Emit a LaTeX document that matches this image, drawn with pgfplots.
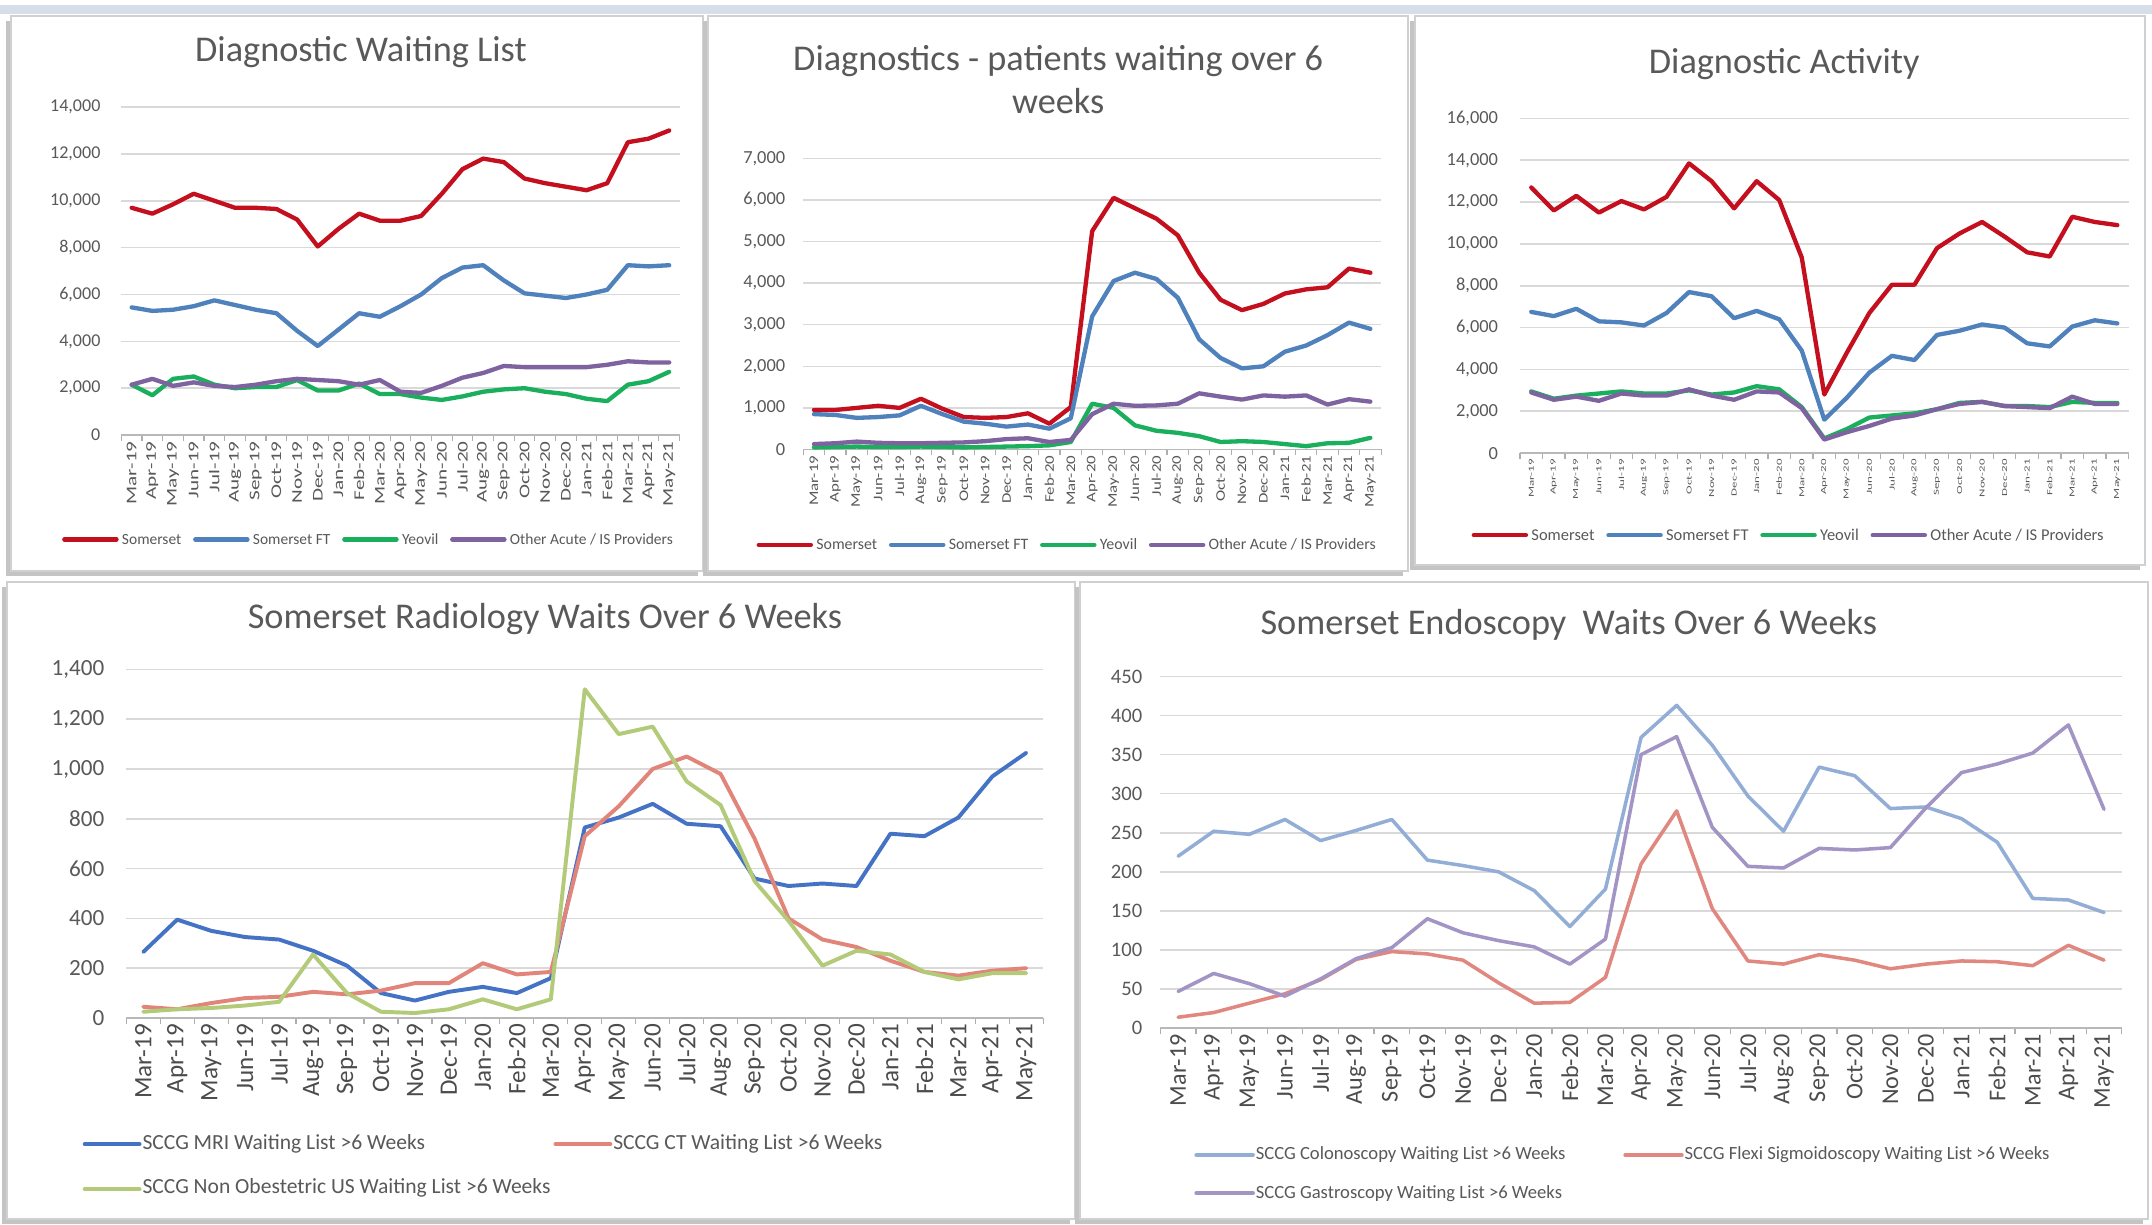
\documentclass[border=0pt]{standalone}
\usepackage{fontspec}
\setmainfont{Carlito}
\usepackage{pgfplots}
\pgfplotsset{compat=1.18}
\usepackage{pgfplotstable}

\definecolor{somred}{HTML}{C30F1E}
\definecolor{sftblue}{HTML}{4F81BD}
\definecolor{yeogreen}{HTML}{1AAF5D}
\definecolor{othpurple}{HTML}{7F63A1}
\definecolor{mriblue}{HTML}{4472C4}
\definecolor{ctred}{HTML}{E1857B}
\definecolor{usgreen}{HTML}{B3CB78}
\definecolor{colblue}{HTML}{93AED6}
\definecolor{flexred}{HTML}{E0877F}
\definecolor{gaspurple}{HTML}{A294C4}
\definecolor{txtgray}{HTML}{595959}
\definecolor{gridgray}{HTML}{D9D9D9}
\definecolor{panelborder}{HTML}{D0D0D0}
\definecolor{panelshadow}{HTML}{C4C4C4}
\definecolor{bandblue}{HTML}{D6DEEA}

% Diagnostic waiting list
\pgfplotstableread{
i som sft yeo oth
0 9700 5450 2150 2150
1 9450 5300 1700 2400
2 9850 5350 2400 2100
3 10300 5500 2500 2250
4 10000 5750 2150 2100
5 9700 5550 2000 2050
6 9700 5350 2050 2150
7 9650 5200 2050 2300
8 9200 4450 2350 2400
9 8050 3800 1900 2350
10 8800 4500 1900 2300
11 9450 5200 2200 2150
12 9150 5050 1750 2350
13 9150 5500 1750 1850
14 9350 6000 1600 1800
15 10300 6700 1500 2100
16 11350 7150 1650 2450
17 11800 7250 1850 2650
18 11650 6600 1950 2950
19 10950 6050 2000 2900
20 10750 5950 1850 2900
21 10600 5850 1750 2900
22 10450 6000 1550 2900
23 10750 6200 1450 3000
24 12500 7250 2150 3150
25 12650 7200 2300 3100
26 13000 7250 2700 3100
}\dwl

% Patients waiting over 6 weeks
\pgfplotstableread{
i som sft yeo oth
0 950 850 50 130
1 950 830 60 150
2 1000 760 70 190
3 1050 780 60 160
4 1000 820 60 150
5 1220 1050 70 150
6 980 850 60 160
7 780 670 50 170
8 760 620 60 200
9 780 550 70 250
10 870 600 80 270
11 620 500 100 180
12 1020 750 180 230
13 5250 3200 1100 850
14 6050 4050 1000 1100
15 5800 4250 580 1050
16 5550 4100 450 1060
17 5150 3650 400 1100
18 4250 2650 320 1350
19 3600 2200 180 1270
20 3350 1950 200 1200
21 3500 2000 180 1300
22 3750 2350 130 1270
23 3850 2500 80 1300
24 3900 2750 150 1080
25 4350 3050 160 1210
26 4250 2900 280 1150
}\sixwk

% Diagnostic activity
\pgfplotstableread{
i som sft yeo oth
0 12700 6750 2950 2900
1 11600 6550 2600 2550
2 12300 6900 2750 2700
3 11500 6300 2850 2500
4 12050 6250 2950 2850
5 11650 6100 2850 2750
6 12250 6700 2850 2750
7 13850 7700 3000 3050
8 13000 7500 2800 2750
9 11700 6450 2900 2550
10 13000 6800 3200 2950
11 12100 6400 3050 2900
12 9350 4900 2200 2150
13 2800 1600 700 650
14 4800 2650 1150 1000
15 6700 3850 1700 1300
16 8050 4650 1800 1650
17 8050 4450 1900 1800
18 9800 5650 2100 2100
19 10500 5850 2400 2350
20 11050 6150 2450 2450
21 10350 6000 2250 2250
22 9600 5250 2250 2200
23 9400 5100 2200 2150
24 11300 6050 2450 2700
25 11050 6350 2400 2350
26 10900 6200 2400 2350
}\activity

% Radiology waits over 6 weeks
\pgfplotstableread{
i mri ct us
0 265 45 25
1 395 35 35
2 350 60 40
3 325 80 50
4 315 85 65
5 270 105 255
6 210 95 100
7 100 110 25
8 70 140 20
9 105 140 35
10 125 220 75
11 100 175 35
12 160 185 75
13 765 730 1320
14 805 850 1140
15 860 1000 1170
16 780 1050 950
17 770 980 855
18 560 720 550
19 530 400 390
20 540 315 210
21 530 285 270
22 740 230 255
23 730 185 185
24 805 170 155
25 970 190 180
26 1065 200 180
}\radiology

% Endoscopy waits over 6 weeks
\pgfplotstableread{
i col flex gas
0 220 14 47
1 252 20 70
2 248 32 57
3 267 44 41
4 240 62 63
5 253 88 89
6 267 98 103
7 215 95 140
8 208 87 122
9 200 58 112
10 176 32 104
11 130 33 82
12 178 65 114
13 372 210 350
14 413 278 373
15 362 153 257
16 297 86 207
17 252 82 205
18 334 94 230
19 323 87 228
20 281 76 231
21 283 82 282
22 268 86 327
23 238 85 338
24 166 80 352
25 164 106 388
26 148 87 280
}\endoscopy

\newcommand\fs[1]{\fontsize{#1}{1.2\dimexpr#1pt\relax}\selectfont}

\pgfplotsset{
  excel/.style={
    scale only axis,
    xmin=-0.5, xmax=26.5, ymin=0,
    xtick={0,...,26},
    xticklabels={Mar-19,Apr-19,May-19,Jun-19,Jul-19,Aug-19,Sep-19,Oct-19,Nov-19,Dec-19,Jan-20,Feb-20,Mar-20,Apr-20,May-20,Jun-20,Jul-20,Aug-20,Sep-20,Oct-20,Nov-20,Dec-20,Jan-21,Feb-21,Mar-21,Apr-21,May-21},
    minor xtick={-0.5,0.5,...,26.5},
    major tick length=0pt,
    minor tick length=3pt,
    tick align=outside,
    every minor tick/.append style={gridgray!80!black, line width=0.6pt},
    axis x line*=bottom,
    axis y line*=left,
    y axis line style={draw=none},
    x axis line style={gridgray!85!black, line width=0.8pt},
    ymajorgrids,
    major grid style={gridgray, line width=0.8pt},
    ytick style={draw=none},
    scaled y ticks=false,
    yticklabel style={anchor=east, inner ysep=0pt, text=txtgray},
    /pgf/number format/1000 sep={,},
    /pgf/number format/assume math mode=true,
    legend cell align=left,
    legend style={draw=none, fill=none, inner sep=0pt, text=txtgray,
      nodes={inner sep=0.5pt, text height=0.72em, text depth=0.22em}},
    every axis plot/.append style={line join=round, line cap=round, mark=none},
  },
  toplegend/.style={
    legend columns=4,
    legend style={font=\fs{8.3}, column sep=1.2pt,
      /tikz/every even column/.append style={column sep=5.5pt}},
    legend image code/.code={\draw[##1] (0pt,0pt) -- (26.6pt,0pt);},
  },
}

\newcommand\panel[4]{%
  \fill[panelshadow] (#1pt-2.5pt,-#2pt-2.5pt) rectangle (#3pt-2.5pt,-#4pt-2.5pt);
  \filldraw[fill=white, draw=panelborder, line width=1pt] (#1pt,-#2pt) rectangle (#3pt,-#4pt);}

\begin{document}
\begin{tikzpicture}
\useasboundingbox (0,0) rectangle (1097.6pt,-624.4pt);
\fill[white] (0,0) rectangle (1097.6pt,-624.4pt);
\fill[bandblue] (0,-2.8pt) rectangle (1097.6pt,-7pt);

\panel{5.6}{8.4}{358.4}{291.2}
\panel{361.2}{8.4}{718.2}{291.2}
\panel{721.7}{8.4}{1094.1}{288.4}
\panel{3.5}{296.8}{548.1}{621.6}
\panel{550.9}{296.8}{1095.5}{621.6}

% Diagnostic Waiting List
\begin{axis}[excel, toplegend,
  at={(61.9pt,-221.9pt)}, anchor=south west,
  width=284.7pt, height=167.3pt,
  ymax=14000, ytick distance=2000,
  yticklabel style={font=\fs{9.2}, inner xsep=10.5pt},
  xticklabel style={rotate=90, yscale=0.7, anchor=east, inner xsep=3pt, inner ysep=0pt, font=\fs{10.8}, text=txtgray},
  legend style={at={(-0.1067,-0.318)}, anchor=west, font=\fs{7.9}},
]
\addplot[somred, line width=2.2pt] table[x=i, y=som] {\dwl};
\addplot[sftblue, line width=2.2pt] table[x=i, y=sft] {\dwl};
\addplot[yeogreen, line width=2.2pt] table[x=i, y=yeo] {\dwl};
\addplot[othpurple, line width=2.2pt] table[x=i, y=oth] {\dwl};
\legend{Somerset, Somerset FT, Yeovil, Other Acute / IS Providers}
\end{axis}

% Diagnostics over 6 weeks
\begin{axis}[excel, toplegend,
  at={(409.7pt,-229.25pt)}, anchor=south west,
  width=294.7pt, height=148.5pt,
  ymax=7000, ytick distance=1000,
  yticklabel style={font=\fs{9.4}, inner xsep=9pt},
  xticklabel style={rotate=90, yscale=0.78, anchor=east, inner xsep=3pt, inner ysep=0pt, font=\fs{8.6}, text=txtgray},
  legend style={at={(-0.0815,-0.3277)}, anchor=west, font=\fs{8.1}},
]
\addplot[somred, line width=2.2pt] table[x=i, y=som] {\sixwk};
\addplot[sftblue, line width=2.2pt] table[x=i, y=sft] {\sixwk};
\addplot[yeogreen, line width=2.2pt] table[x=i, y=yeo] {\sixwk};
\addplot[othpurple, line width=2.2pt] table[x=i, y=oth] {\sixwk};
\legend{Somerset, Somerset FT, Yeovil, Other Acute / IS Providers}
\end{axis}

% Diagnostic Activity
\begin{axis}[excel, toplegend,
  at={(775.25pt,-231.1pt)}, anchor=south west,
  width=310.4pt, height=170.7pt,
  ymax=16000, ytick distance=2000,
  yticklabel style={font=\fs{9.4}, inner xsep=11pt},
  xticklabel style={rotate=90, yscale=0.6, anchor=east, inner xsep=3pt, inner ysep=0pt, font=\fs{6.6}, text=txtgray},
  legend style={at={(-0.0801,-0.2452)}, anchor=west, font=\fs{8.4}},
]
\addplot[somred, line width=2.2pt] table[x=i, y=som] {\activity};
\addplot[sftblue, line width=2.2pt] table[x=i, y=sft] {\activity};
\addplot[yeogreen, line width=2.2pt] table[x=i, y=yeo] {\activity};
\addplot[othpurple, line width=2.2pt] table[x=i, y=oth] {\activity};
\legend{Somerset, Somerset FT, Yeovil, Other Acute / IS Providers}
\end{axis}

% Radiology waits
\begin{axis}[excel,
  at={(64.4pt,-519.2pt)}, anchor=south west,
  width=467.7pt, height=177.8pt,
  ymax=1400, ytick distance=200,
  yticklabel style={font=\fs{11.8}, inner xsep=11pt},
  xticklabel style={rotate=90, anchor=east, inner xsep=3pt, inner ysep=0pt, font=\fs{12.8}, text=txtgray!85!black},
  legend columns=2,
  legend style={at={(-0.0479,-0.4264)}, anchor=west, font=\fs{11},
    column sep=0pt, row sep=12.5pt,
    /tikz/every even column/.append style={column sep=1pt}},
  legend image code/.code={\draw[#1] (0pt,0pt) -- (28pt,0pt);},
]
\addplot[mriblue, line width=2pt] table[x=i, y=mri] {\radiology};
\addplot[ctred, line width=2pt] table[x=i, y=ct] {\radiology};
\addplot[usgreen, line width=2pt] table[x=i, y=us] {\radiology};
\legend{SCCG MRI Waiting List >6 Weeks, SCCG CT Waiting List >6 Weeks, SCCG Non Obestetric US Waiting List >6 Weeks}
\end{axis}

% Endoscopy waits
\begin{axis}[excel,
  at={(591.8pt,-524.4pt)}, anchor=south west,
  width=490.4pt, height=179.4pt,
  ymax=450, ytick distance=50,
  yticklabel style={font=\fs{10.5}, inner xsep=9pt},
  xticklabel style={rotate=90, anchor=east, inner xsep=3pt, inner ysep=0pt, font=\fs{12.3}, text=txtgray!85!black},
  legend columns=2,
  legend style={at={(0.0351,-0.4148)}, anchor=west, font=\fs{9.5},
    column sep=0pt, row sep=9pt,
    /tikz/every even column/.append style={column sep=29pt}},
  legend image code/.code={\draw[#1] (0pt,0pt) -- (29pt,0pt);},
]
\addplot[colblue, line width=1.8pt] table[x=i, y=col] {\endoscopy};
\addplot[flexred, line width=1.8pt] table[x=i, y=flex] {\endoscopy};
\addplot[gaspurple, line width=1.8pt] table[x=i, y=gas] {\endoscopy};
\legend{SCCG Colonoscopy Waiting List >6 Weeks, SCCG Flexi Sigmoidoscopy Waiting List >6 Weeks, SCCG Gastroscopy Waiting List >6 Weeks}
\end{axis}

% Chart titles
\begin{scope}[every node/.style={text=txtgray, font=\fs{18.5}}]
\node at (184.1pt,-26.6pt) {Diagnostic Waiting List};
\node[align=center, font=\fontsize{18.5}{22.4}\selectfont] at (539.7pt,-40.6pt) {Diagnostics - patients waiting over 6\\weeks};
\node at (910pt,-32.9pt) {Diagnostic Activity};
\node at (277.9pt,-315.7pt) {Somerset Radiology Waits Over 6 Weeks};
\node at (800.1pt,-318.5pt) {Somerset Endoscopy\ \ Waits Over 6 Weeks};
\end{scope}
\end{tikzpicture}
\end{document}
